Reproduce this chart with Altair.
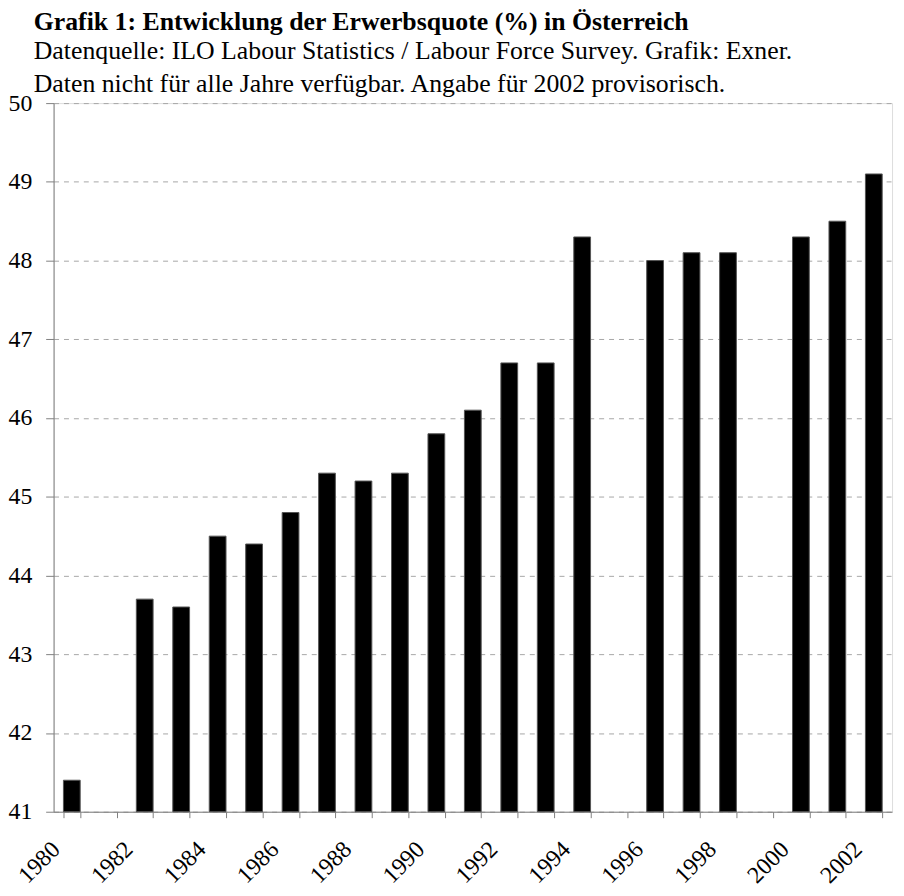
import altair as alt
import pandas as pd

years = [str(y) for y in range(1980, 2003)]
data_years = ["1980", "1982", "1983", "1984", "1985", "1986", "1987", "1988", "1989",
              "1990", "1991", "1992", "1993", "1994", "1996", "1997", "1998",
              "2000", "2001", "2002"]
values = [41.4, 43.7, 43.6, 44.5, 44.4, 44.8, 45.3, 45.2, 45.3,
          45.8, 46.1, 46.7, 46.7, 48.3, 48.0, 48.1, 48.1,
          48.3, 48.5, 49.1]
y_ticks = list(range(41, 51))

title_text = "Grafik 1: Entwicklung der Erwerbsquote (%) in Österreich"
subtitle_lines = [
    "Datenquelle: ILO Labour Statistics / Labour Force Survey. Grafik: Exner.",
    "Daten nicht für alle Jahre verfügbar. Angabe für 2002 provisorisch.",
]

df = pd.DataFrame({"Jahr": data_years, "Quote": values})

FONT = "Liberation Serif"

chart = alt.Chart(df).mark_bar(
    color="black", stroke="#555555", strokeWidth=1
).encode(
    x=alt.X(
        "Jahr:N",
        sort=years,
        scale=alt.Scale(domain=years, paddingInner=0.54, paddingOuter=0.27),
        axis=alt.Axis(
            title=None,
            labelAngle=-45,
            labelAlign="right",
            labelBaseline="middle",
            labelExpr="toNumber(datum.value) % 2 == 0 ? datum.label : ''",
            labelFont=FONT,
            labelFontSize=24,
            labelColor="black",
            labelPadding=28,
            labelOffset=-16,
            tickBand="extent",
            tickSize=6,
            tickColor="#808080",
            domainColor="#808080",
            labelOverlap=False,
            grid=False,
        ),
    ),
    y=alt.Y(
        "Quote:Q",
        scale=alt.Scale(domain=[41, 50], nice=False, zero=False),
        axis=alt.Axis(
            title=None,
            values=y_ticks,
            labelFont=FONT,
            labelFontSize=24,
            labelColor="black",
            labelPadding=14,
            tickSize=8,
            tickColor="#808080",
            domainColor="#808080",
            grid=True,
            gridColor="#a6a6a6",
            gridDash=[5, 5],
            gridWidth=1,
        ),
    ),
    y2=alt.datum(41),
).properties(
    width=846,
    height=715,
    autosize=alt.AutoSizeParams(type="none"),
    padding={"left": 46, "top": 92, "right": 4, "bottom": 73},
    title=alt.TitleParams(
        text=title_text,
        subtitle=subtitle_lines,
        anchor="start",
        frame="group",
        dx=-20,
        offset=-6,
        font=FONT,
        fontSize=26,
        fontWeight="bold",
        color="black",
        subtitleFont=FONT,
        subtitleFontSize=26,
        subtitleColor="black",
        subtitleLineHeight=34,
        subtitlePadding=3,
    ),
).configure_view(
    stroke="#808080", strokeWidth=1
).configure(background="white")

chart.save("out.html", embed_options={"renderer": "svg", "actions": False})
